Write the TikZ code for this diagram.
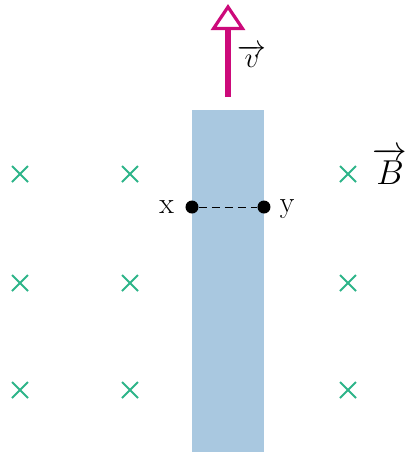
\documentclass[tikz,border=0pt]{standalone}
\usepackage{amsmath}
\usepackage{tikz}
\usetikzlibrary{arrows.meta, positioning}
\definecolor{stripblue}{HTML}{A9C8E0}
\definecolor{fieldgreen}{HTML}{2DB489}
\definecolor{velmag}{HTML}{CC0A7A}
\tikzset{
  fieldx/.style = {color = fieldgreen, line width = 1pt},
  endpt/.style = {circle, fill = black, inner sep = 0pt, minimum size = 6.5pt},
  lbl/.style = {font = \fontsize{15}{17}\selectfont},
  veclbl/.style = {font = \fontsize{18}{20}\selectfont, inner sep = 1pt}
}

\begin{document}
\begin{tikzpicture}[x = 0.5pt, y = -0.5pt]
	\useasboundingbox (0,0) rectangle (404,452);
	% conducting strip
	\fill[stripblue] (192,110) rectangle (264,452);
	% magnetic field into the page
	\foreach \cx in {20,130,348}
		\foreach \cy in {174,283,390}
			\draw[fieldx] (\cx-8,\cy-8) -- (\cx+8,\cy+8) (\cx-8,\cy+8) -- (\cx+8,\cy-8);
	\node[veclbl] (B) at (390,166) {$\overrightarrow{B}$};
	% velocity
	\coordinate (vtail) at (228,97);
	\coordinate (vhead) at (228,4);
	\draw[velmag, line width = 2.6pt,
		-{Triangle[open, length = 13pt, width = 17pt, line width = 1.6pt, fill = white]}]
		(vtail) -- (vhead);
	\node[lbl, inner sep = 1pt] (v) at (252,56) {$\overrightarrow{v}$};
	% points x and y
	\node[endpt] (x) at (192,207) {};
	\node[endpt] (y) at (264,207) {};
	\node[lbl, left = 2pt of x] (xl) {x};
	\node[lbl, right = 1pt of y, yshift = -1pt] (yl) {y};
	\draw[dashed, dash pattern = on 4pt off 2.5pt, thin] (x) -- (y);
\end{tikzpicture}
\end{document}
